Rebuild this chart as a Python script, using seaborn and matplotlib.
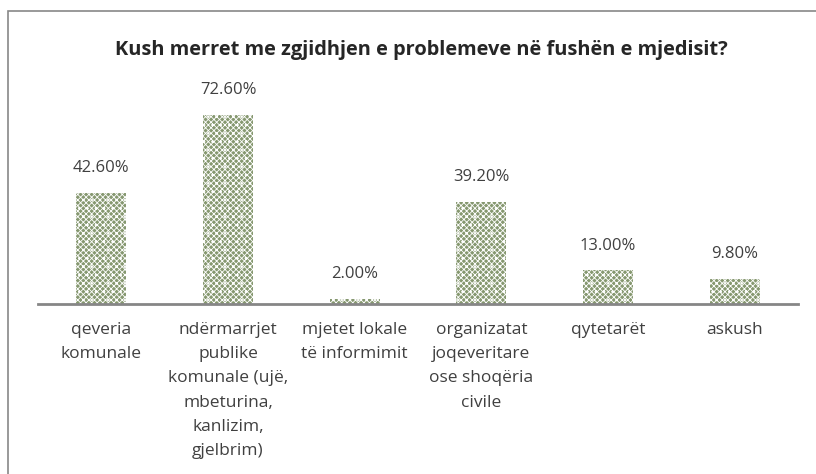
import matplotlib
matplotlib.use('Agg')
import matplotlib.pyplot as plt
import matplotlib.patches as mpatches
import seaborn as sns
import pandas as pd

# data
categories = ['qeveria\nkomunale',
              'ndërmarrjet\npublike\nkomunale (ujë,\nmbeturina,\nkanlizim,\ngjelbrim)',
              'mjetet lokale\ntë informimit',
              'organizatat\njoqeveritare\nose shoqëria\ncivile',
              'qytetarët',
              'askush']
values = [42.6, 72.6, 2.0, 39.2, 13.0, 9.8]
title = 'Kush merret me zgjidhjen e problemeve në fushën e mjedisit?'

df = pd.DataFrame({'cat': categories, 'val': values})

sns.set_style('white')
plt.rcParams['font.family'] = ['Open Sans', 'DejaVu Sans']
plt.rcParams['hatch.color'] = '#dfe5d5'
plt.rcParams['hatch.linewidth'] = 0.6

fig = plt.figure(figsize=(8.16, 4.74), dpi=100)
ax = fig.add_axes([0.0466, 0.3586, 0.9314, 0.452])

sns.barplot(data=df, x='cat', y='val', color='#869870', width=0.395,
            saturation=1, ax=ax)
for p in ax.patches:
    p.set_hatch('xxxxxx..')
    p.set_linewidth(0)

for p, v in zip(ax.patches, values):
    ax.annotate(f'{v:.2f}%', (p.get_x() + p.get_width() / 2, p.get_height()),
                xytext=(0, 12), textcoords='offset points', ha='center',
                va='bottom', fontsize=12, color='#404040')

ax.set_ylim(0, 82.3)
ax.set_xlabel('')
ax.set_ylabel('')
ax.set_yticks([])
ax.tick_params(axis='x', length=0, pad=13, labelsize=12.5, labelcolor='#404040')
for lab in ax.get_xticklabels():
    lab.set_linespacing(1.68)
for s in ['top', 'right', 'left']:
    ax.spines[s].set_visible(False)
ax.spines['bottom'].set_color('#868686')
ax.spines['bottom'].set_linewidth(2)

fig.text(0.516, 0.894, title, ha='center', va='center', fontsize=14.4,
         fontweight='bold', color='#262626')

# outer chart frame
fig.patches.append(mpatches.Rectangle((8 / 816, -0.1), 1.0, 1 - 11 / 474 + 0.1,
                                      transform=fig.transFigure, fill=False,
                                      edgecolor='#888888', linewidth=1.2))

fig.savefig('out.png', dpi=100)
